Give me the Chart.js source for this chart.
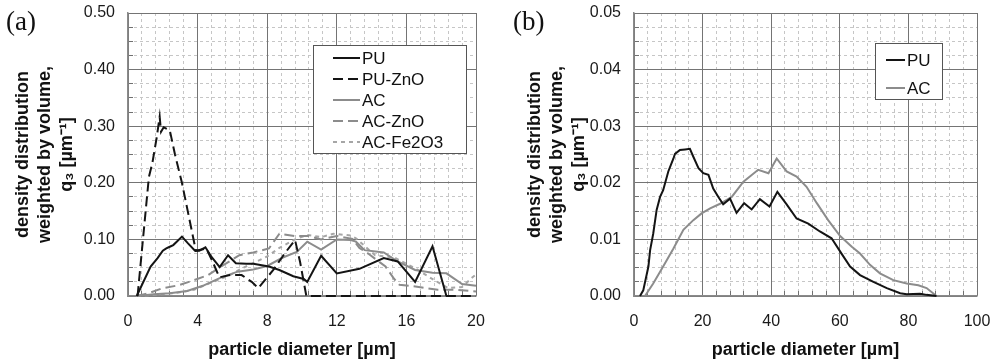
<!DOCTYPE html>
<html><head><meta charset="utf-8">
<script src="https://cdn.jsdelivr.net/npm/chart.js@4.4.1/dist/chart.umd.min.js"></script>
<style>
html,body{margin:0;padding:0;background:#fff;}
#wrap{position:relative;width:993px;height:363px;overflow:hidden;background:#fff;}
.pane{position:absolute;top:0;height:363px;}
.lab{position:absolute;top:6px;font-family:"Liberation Serif","DejaVu Serif",serif;font-size:27px;color:#111;line-height:30px;}
</style></head><body>
<div id="wrap">
<div class="pane" style="left:0;width:497px"><canvas id="ca" width="497" height="363"></canvas></div>
<div class="pane" style="left:497px;width:496px"><canvas id="cb" width="496" height="363"></canvas></div>
<div class="lab" style="left:6px">(a)</div>
<div class="lab" style="left:513px">(b)</div>
</div>
<script>
// ---------- Panel (a) data ----------
const aPU_x = [0.5,1.3,1.7,2.0,2.2,2.4,2.6,2.8,3.1,3.45,3.85,4.1,4.45,4.8,5.27,5.75,6.2,6.8,7.2,8.1,8.7,9.5,10.1,10.3,11.1,12.0,13.3,14.7,15.5,16.5,17.5,18.3];
const aPU_y = [0,0.052,0.067,0.080,0.084,0.087,0.090,0.096,0.105,0.093,0.080,0.080,0.086,0.069,0.051,0.072,0.058,0.057,0.057,0.052,0.046,0.035,0.030,0.025,0.071,0.040,0.048,0.067,0.061,0.025,0.088,0];
const aPUZnO_x = [0.55,1.2,1.4,1.65,1.82,1.9,2.05,2.4,2.7,3.1,3.9,4.5,4.9,5.25,5.86,6.53,7.11,7.49,7.7,8.35,9.0,9.6,9.89,10.25,12,14,16,18,20];
const aPUZnO_y = [0,0.21,0.235,0.28,0.317,0.29,0.298,0.293,0.25,0.2,0.08,0.084,0.058,0.033,0.037,0.037,0.025,0.014,0.022,0.046,0.075,0.099,0.060,0,0,0,0,0,0];
const aAC_x = [0.5,1.5,2.4,3.4,4.3,5.3,6.3,7.2,8.0,8.9,9.7,10.3,11.1,12.0,12.8,13.1,13.6,14.7,15.5,16.5,17.5,18.3,19.2,20];
const aAC_y = [0,0.003,0.005,0.009,0.018,0.032,0.043,0.047,0.053,0.068,0.078,0.096,0.082,0.100,0.099,0.096,0.081,0.077,0.061,0.046,0.041,0.040,0.021,0.018];
const aACZnO_x = [0.5,1.2,1.9,2.9,3.8,4.6,5.5,6.4,7.2,8.1,8.7,9.6,10.4,11.1,12.0,12.9,13.3,13.8,14.8,15.3,15.6,16.2,16.9,17.8,18.8,19.6,20];
const aACZnO_y = [0,0.005,0.013,0.019,0.028,0.037,0.055,0.072,0.077,0.084,0.110,0.106,0.106,0.100,0.106,0.101,0.085,0.075,0.052,0.030,0.020,0.018,0.015,0.011,0.011,0.009,0.008];
const aACFe_x = [0.5,1.9,2.9,3.8,4.8,5.8,6.5,7.2,8.0,8.7,9.6,10.3,11.1,11.8,12.8,13.1,14.2,15.3,16.5,17.6,18.4,19.2,19.8,20];
const aACFe_y = [0,0.003,0.006,0.011,0.024,0.036,0.048,0.058,0.070,0.085,0.100,0.108,0.104,0.110,0.107,0.102,0.072,0.068,0.049,0.028,0.014,0.016,0.033,0.038];

// ---------- Panel (b) data ----------
const bPU_x = [1.75,2.7,4.2,4.7,5.6,6.6,7.6,8.5,10.0,11.5,11.95,13.4,14.9,16.3,17.3,18.8,20.2,21.7,23.1,24.6,26.0,28.0,29.9,32.1,34.3,36.7,39.5,41.8,44.5,47.4,50.8,54.2,57.6,60.6,63.0,65.9,69.8,73.7,77.6,79.5,83.4,85.3,88.2];
const bPU_y = [0,0.001,0.0052,0.0081,0.011,0.0152,0.0175,0.0187,0.022,0.0243,0.0251,0.0258,0.0259,0.0260,0.0246,0.0226,0.0217,0.0214,0.0190,0.0175,0.0162,0.0172,0.0147,0.0164,0.0153,0.0171,0.0158,0.0184,0.0162,0.0137,0.0128,0.0114,0.0102,0.0074,0.0052,0.0037,0.0025,0.0014,0.0005,0.0003,0.0004,0.0002,0];
const bAC_x = [3.2,5.6,8.5,11.5,14.4,17.3,19.7,22.2,25.1,28.5,31.9,36.2,39.2,41.6,44.5,47.4,50.3,53.3,56.6,60.1,63.5,65.9,68.8,71.7,75.6,79.5,82.9,85.3,88.2];
const bAC_y = [0,0.0022,0.0052,0.0084,0.0117,0.0134,0.0146,0.0155,0.0163,0.0175,0.0202,0.0223,0.0217,0.0243,0.0220,0.0211,0.0193,0.0164,0.0134,0.0106,0.0087,0.0075,0.0055,0.0040,0.0028,0.0022,0.0019,0.0014,0];

// ---------- axis ticks ----------
const aXTicks = {min:0, max:20, major:4, minor:0.8};
const aYTicks = {min:0, max:0.5, major:0.1, minor:0.025};
const bXTicks = {min:0, max:100, major:20, minor:4};
const bYTicks = {min:0, max:0.05, major:0.01, minor:0.0025};

const xTitle = 'particle diameter [µm]';
const yTitle = ['density distribution','weighted by volume,','q₃ [µm⁻¹]'];

const FAM = '"Liberation Sans", Arial, Helvetica, sans-serif';
Chart.defaults.font.family = FAM;
Chart.defaults.color = '#1a1a1a';

function pts(xs, ys){ return xs.map((x,i)=>({x:x, y:ys[i]})); }
function isMult(v, step){ const r = v/step; return Math.abs(r-Math.round(r)) < 1e-6; }

const BLACK = '#141414', GRAY = '#8c8c8c', LGRAY = '#a6a6a6';
const MAJOR = '#747474', MINOR = '#c6c6c6', BORDER = '#8a8a8a';

const boxLegend = {
  id:'boxLegend',
  afterDatasetsDraw(chart, args, o){
    const ctx = chart.ctx;
    ctx.save();
    ctx.fillStyle = '#fff';
    ctx.fillRect(o.x, o.y, o.w, o.h);
    ctx.strokeStyle = '#555'; ctx.lineWidth = 1;
    ctx.strokeRect(o.x+0.5, o.y+0.5, o.w, o.h);
    chart.data.datasets.forEach((ds,i)=>{
      const yy = o.y + o.first + i*o.step;
      ctx.strokeStyle = ds.borderColor; ctx.lineWidth = ds.borderWidth;
      ctx.setLineDash(ds.borderDash || []);
      ctx.beginPath(); ctx.moveTo(o.x1, yy); ctx.lineTo(o.x2, yy); ctx.stroke();
      ctx.setLineDash([]);
      ctx.fillStyle = '#111';
      ctx.font = o.size + 'px ' + FAM;
      ctx.textBaseline = 'middle'; ctx.textAlign = 'left';
      ctx.fillText(ds.label, o.tx, yy + 1);
    });
    ctx.restore();
  }
};

function makeScales(xt, yt, yWidth, yTitlePad, yDigits){
  return {
    x: {
      type:'linear', position:'bottom', min:xt.min, max:xt.max,
      ticks:{stepSize:xt.major, autoSkip:false, maxRotation:0, padding:16, color:'#1a1a1a', font:{size:16}},
      grid:{color:MAJOR, lineWidth:1, drawTicks:false},
      border:{color:BORDER, width:1.5},
      title:{display:true, text:xTitle, color:'#111', font:{size:18, weight:'bold'}, padding:{top:0, bottom:2}},
      afterFit: s => { s.height = 67; s.paddingLeft = 0; s.paddingRight = 0; }
    },
    y: {
      type:'linear', position:'left', min:yt.min, max:yt.max,
      ticks:{stepSize:yt.major, autoSkip:false, padding:13, color:'#1a1a1a', font:{size:16},
             callback: v => Number(v).toFixed(yDigits)},
      grid:{color:MAJOR, lineWidth:1, drawTicks:false},
      border:{color:BORDER, width:1.5},
      title:{display:true, text:yTitle, color:'#111', font:{size:18, weight:'bold', lineHeight:1.22}, padding:{top:yTitlePad, bottom:0}},
      afterFit: s => { s.width = yWidth; s.paddingTop = 0; s.paddingBottom = 0; }
    },
    x2: {
      type:'linear', position:'bottom', weight:-1, min:xt.min, max:xt.max, display:true,
      ticks:{display:false, stepSize:xt.minor, autoSkip:false},
      grid:{z:-2, color: c => isMult(c.tick.value, xt.major) ? 'rgba(0,0,0,0)' : MINOR, lineWidth:1,
            drawTicks:true, tickLength:-5, tickColor:'#707070', tickWidth:1},
      border:{display:false, dash:[3,3]},
      afterFit: s => { s.height = 0; s.paddingLeft = 0; s.paddingRight = 0; }
    },
    y2: {
      type:'linear', position:'left', weight:-1, min:yt.min, max:yt.max, display:true,
      ticks:{display:false, stepSize:yt.minor, autoSkip:false},
      grid:{z:-2, color: c => isMult(c.tick.value, yt.major) ? 'rgba(0,0,0,0)' : MINOR, lineWidth:1,
            drawTicks:true, tickLength:-5, tickColor:'#707070', tickWidth:1},
      border:{display:false, dash:[3,3]},
      afterFit: s => { s.width = 0; s.paddingTop = 0; s.paddingBottom = 0; }
    }
  };
}

function ds(label, xs, ys, color, dash){
  return {label:label, data:pts(xs,ys), borderColor:color, backgroundColor:color, borderWidth:2,
          borderDash:dash, pointRadius:0, tension:0, fill:false, xAxisID:'x', yAxisID:'y', clip:false};
}

new Chart(document.getElementById('ca'), {
  type:'line',
  data:{datasets:[
    ds('PU', aPU_x, aPU_y, BLACK, []),
    ds('PU-ZnO', aPUZnO_x, aPUZnO_y, BLACK, [10,5]),
    ds('AC', aAC_x, aAC_y, GRAY, []),
    ds('AC-ZnO', aACZnO_x, aACZnO_y, GRAY, [10,5]),
    ds('AC-Fe2O3', aACFe_x, aACFe_y, LGRAY, [4,4])
  ]},
  options:{
    responsive:false, animation:false, devicePixelRatio:1,
    layout:{padding:{left:0, right:21, top:13, bottom:0}},
    scales: makeScales(aXTicks, aYTicks, 128, 12, 2),
    plugins:{legend:{display:false}, tooltip:{enabled:false},
      boxLegend:{x:313, y:45, w:153, h:108, first:13, step:21, x1:333, x2:360, tx:362, size:17}}
  },
  plugins:[boxLegend]
});

new Chart(document.getElementById('cb'), {
  type:'line',
  data:{datasets:[
    ds('PU', bPU_x, bPU_y, BLACK, []),
    ds('AC', bAC_x, bAC_y, GRAY, [])
  ]},
  options:{
    responsive:false, animation:false, devicePixelRatio:1,
    layout:{padding:{left:0, right:16, top:13, bottom:0}},
    scales: makeScales(bXTicks, bYTicks, 137, 27, 2),
    plugins:{legend:{display:false}, tooltip:{enabled:false},
      boxLegend:{x:378, y:43, w:67, h:56, first:17, step:28, x1:389, x2:408, tx:410, size:17}}
  },
  plugins:[boxLegend]
});
</script>
</body></html>
